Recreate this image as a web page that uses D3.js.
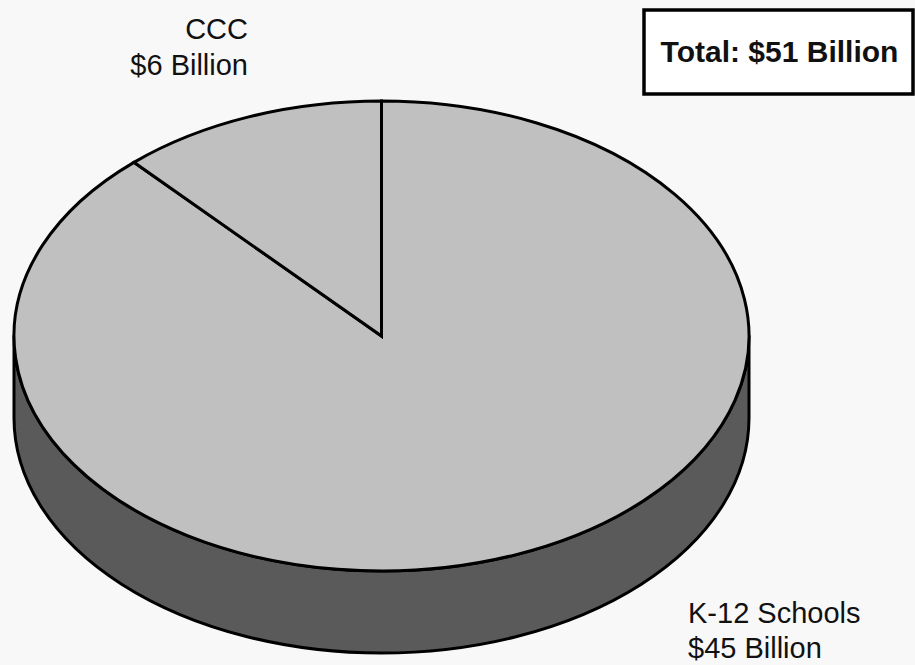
<!DOCTYPE html>
<html>
<head>
<meta charset="UTF-8">
<title>Pie</title>
<script src="https://d3js.org/d3.v7.min.js"></script>
<style>
  body { margin: 0; background: #f8f8f8; }
  text { font-family: "Liberation Sans", Arial, sans-serif; fill: #111; }
</style>
</head>
<body>
<script>
// data
var categories = ["K-12 Schools", "CCC"];
var values = [45, 6];
var valueLabels = ["$45 Billion", "$6 Billion"];
var totalLabel = "Total: $51 Billion";

var width = 915, height = 665;
var cx = 381.5, cy = 336, rx = 367.5, ry = 235, depth = 82;

var svg = d3.select("body").append("svg")
    .attr("width", width)
    .attr("height", height);

// angle -> point on the flattened top ellipse
function pt(a, dy) {
    return [cx + rx * Math.sin(a), cy - ry * Math.cos(a) + (dy || 0)];
}

var pie = d3.pie().sort(null).value(function (d) { return d; });
var arcs = pie(values);

// side wall (front half only)
var r = pt(Math.PI / 2), l = pt(3 * Math.PI / 2);
svg.append("path")
    .attr("d", "M" + r + " A" + rx + "," + ry + " 0 0 1 " + l +
        " L" + [l[0], l[1] + depth] +
        " A" + rx + "," + ry + " 0 0 0 " + [r[0], r[1] + depth] + " Z")
    .attr("fill", "#5a5a5a")
    .attr("stroke", "#000")
    .attr("stroke-width", 3)
    .attr("stroke-linejoin", "round");

// top slices
svg.selectAll(".slice")
    .data(arcs)
    .enter().append("path")
    .attr("class", "slice")
    .attr("d", function (d) {
        var p0 = pt(d.startAngle), p1 = pt(d.endAngle);
        var large = (d.endAngle - d.startAngle) > Math.PI ? 1 : 0;
        return "M" + [cx, cy] + " L" + p0 +
            " A" + rx + "," + ry + " 0 " + large + " 1 " + p1 + " Z";
    })
    .attr("fill", "#c0c0c0")
    .attr("stroke", "#000")
    .attr("stroke-width", 3)
    .attr("stroke-linejoin", "miter");

// labels
var fs = 29;
var lab = svg.append("g").attr("font-size", fs);
var t1 = lab.append("text").attr("text-anchor", "end");
t1.append("tspan").attr("x", 248).attr("y", 39).text(categories[1]);
t1.append("tspan").attr("x", 248).attr("y", 75).text(valueLabels[1]);

var t0 = lab.append("text").attr("text-anchor", "start");
t0.append("tspan").attr("x", 688).attr("y", 623).text(categories[0]);
t0.append("tspan").attr("x", 688).attr("y", 658).text(valueLabels[0]);

// total box
svg.append("rect")
    .attr("x", 644).attr("y", 10)
    .attr("width", 269).attr("height", 84)
    .attr("fill", "#fff")
    .attr("stroke", "#000")
    .attr("stroke-width", 3.5);
svg.append("text")
    .attr("x", 779.5).attr("y", 62)
    .attr("text-anchor", "middle")
    .attr("font-size", 30)
    .attr("font-weight", "bold")
    .text(totalLabel);
</script>
</body>
</html>
